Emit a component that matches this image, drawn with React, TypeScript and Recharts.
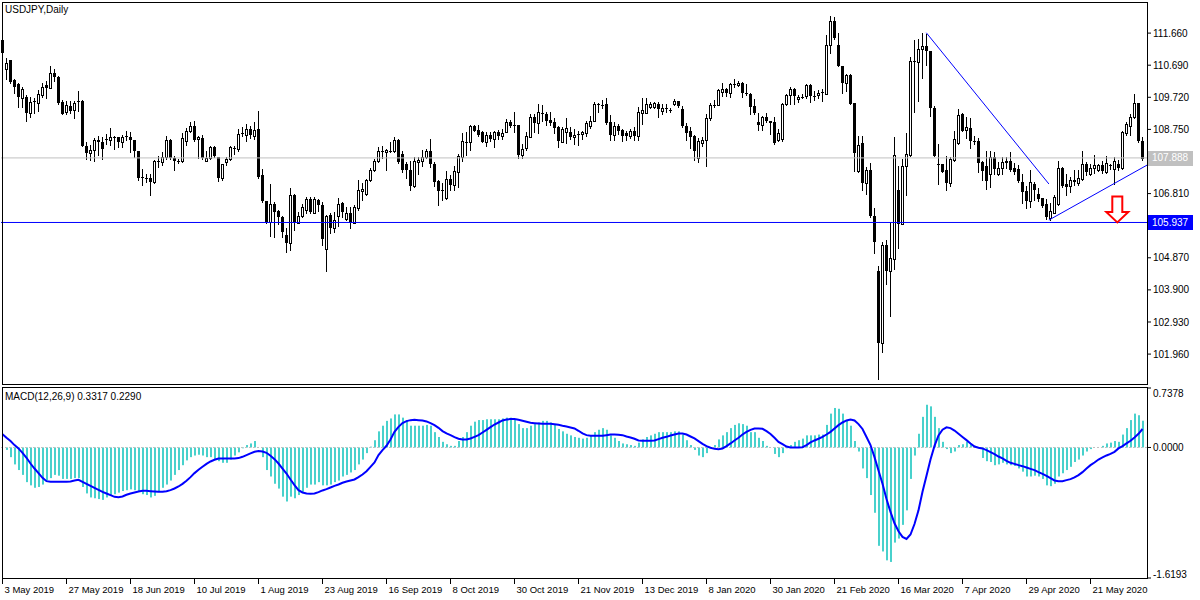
import React from "react";
import { ComposedChart, Bar, Line, XAxis, YAxis, ReferenceLine, ReferenceDot } from "recharts";

const dateLabels = [
  "3 May 2019", "27 May 2019", "18 Jun 2019", "10 Jul 2019", "1 Aug 2019", "23 Aug 2019",
  "16 Sep 2019", "8 Oct 2019", "30 Oct 2019", "21 Nov 2019", "13 Dec 2019", "8 Jan 2020",
  "30 Jan 2020", "21 Feb 2020", "16 Mar 2020", "7 Apr 2020", "29 Apr 2020", "21 May 2020",
];
const labelBars = [0, 16, 32, 48, 64, 80, 96, 112, 128, 144, 160, 176, 192, 208, 224, 240, 256, 272];
// 107.780 and 105.840 sit under the price tags, so they are left out
const priceTicks = [111.66, 110.69, 109.72, 108.75, 106.81, 104.87, 103.9, 102.93, 101.96];
const macdTicks = [0.7378, 0, -1.6193];

const openP = [
  111.46, 110.58, 110.84, 110.23, 110.11, 109.71, 109.73, 109.26, 109.6, 109.56,
  109.79, 110.09, 110.01, 110.46, 110.33, 109.58, 109.29, 109.46, 109.33, 109.61,
  109.61, 108.26, 108.04, 108.14, 108.43, 108.36, 108.46, 108.43, 108.53, 108.51,
  108.36, 108.54, 108.53, 108.43, 108.11, 107.31, 107.29, 107.29, 107.16, 107.79,
  107.76, 107.91, 108.43, 107.89, 107.81, 107.78, 108.41, 108.71, 108.86, 108.45,
  108.49, 107.81, 107.89, 108.23, 107.93, 107.29, 107.76, 107.86, 108.18, 108.16,
  108.64, 108.59, 108.76, 108.56, 108.76, 107.36, 106.59, 105.96, 106.49, 106.29,
  106.11, 105.56, 105.31, 106.76, 105.93, 106.13, 106.31, 106.66, 106.23, 106.63,
  106.46, 105.13, 106.16, 105.76, 106.13, 106.53, 106.03, 106.23, 105.93, 106.36,
  106.89, 106.81, 107.21, 107.51, 107.79, 108.09, 108.06, 108.11, 108.09, 108.44,
  108.01, 107.71, 107.53, 107.03, 107.76, 107.81, 107.93, 108.09, 107.71, 107.18,
  106.91, 106.68, 107.24, 107.08, 107.46, 107.93, 108.36, 108.36, 108.86, 108.73,
  108.66, 108.36, 108.59, 108.46, 108.68, 108.56, 108.68, 108.98, 108.88, 108.88,
  107.99, 108.19, 108.53, 109.13, 108.93, 109.24, 109.23, 109.03, 108.96, 108.81,
  108.38, 108.66, 108.68, 108.51, 108.61, 108.61, 108.63, 108.86, 109.0, 109.53,
  109.49, 109.53, 108.96, 108.59, 108.86, 108.73, 108.63, 108.54, 108.71, 108.54,
  109.26, 109.26, 109.44, 109.43, 109.53, 109.31, 109.39, 109.34, 109.51, 109.61,
  109.36, 108.86, 108.71, 108.56, 107.89, 108.33, 108.43, 109.08, 109.48, 109.49,
  109.89, 109.98, 109.86, 110.13, 110.08, 110.16, 109.86, 109.83, 109.46, 108.96,
  108.88, 109.13, 109.01, 108.96, 108.43, 108.47, 109.51, 109.79, 109.96, 109.66,
  109.74, 109.76, 110.09, 109.76, 109.78, 109.89, 109.83, 111.31, 112.03, 111.29,
  110.66, 110.16, 110.39, 109.56, 107.49, 108.35, 107.13, 107.51, 106.13, 104.46,
  102.31, 105.26, 104.46, 104.83, 106.91, 105.89, 107.63, 107.99, 110.81, 110.79,
  111.19, 111.26, 111.11, 109.41, 107.71, 107.69, 107.53, 107.13, 107.83, 108.33,
  109.21, 108.73, 108.79, 108.39, 108.41, 107.76, 107.63, 107.41, 107.93, 107.41,
  107.59, 107.79, 107.78, 107.59, 107.56, 107.16, 106.89, 106.59, 107.09, 106.79,
  106.69, 106.51, 106.06, 106.23, 106.49, 107.59, 107.11, 107.03, 107.23, 107.13,
  107.26, 107.69, 107.39, 107.58, 107.53, 107.66, 107.46, 107.66, 107.56, 107.71,
  107.59, 108.63, 108.86, 109.11, 109.56, 108.41,
];
const highP = [
  111.55, 110.91, 110.84, 110.26, 110.16, 110.03, 109.78, 109.73, 109.71, 109.93,
  110.16, 110.21, 110.66, 110.56, 110.35, 109.63, 109.61, 109.61, 109.61, 109.91,
  109.63, 108.36, 108.29, 108.49, 108.56, 108.53, 108.61, 108.79, 108.56, 108.53,
  108.59, 108.71, 108.66, 108.43, 108.11, 107.56, 107.41, 107.41, 107.83, 107.96,
  108.06, 108.56, 108.46, 107.96, 107.85, 108.63, 108.79, 108.96, 108.99, 108.56,
  108.59, 108.11, 108.26, 108.26, 107.93, 107.71, 107.91, 108.26, 108.26, 108.76,
  108.81, 108.91, 108.86, 108.96, 109.31, 107.56, 106.59, 107.09, 106.56, 106.31,
  106.13, 105.76, 106.99, 106.81, 106.26, 106.51, 106.71, 106.71, 106.71, 106.66,
  106.56, 106.16, 106.21, 106.26, 106.69, 106.56, 106.41, 106.41, 106.46, 107.23,
  107.13, 107.26, 107.59, 107.86, 108.21, 108.26, 108.16, 108.36, 108.51, 108.46,
  108.09, 107.76, 107.81, 107.91, 107.91, 108.13, 108.16, 108.46, 107.76, 107.21,
  107.13, 107.48, 107.36, 107.63, 108.01, 108.63, 108.66, 108.89, 108.89, 108.89,
  108.71, 108.66, 108.66, 108.71, 108.73, 108.76, 109.06, 109.03, 109.28, 108.88,
  108.31, 108.66, 109.21, 109.21, 109.51, 109.49, 109.29, 109.29, 109.09, 108.86,
  108.81, 109.09, 108.81, 108.76, 108.71, 108.71, 108.99, 109.16, 109.59, 109.56,
  109.63, 109.69, 109.19, 108.96, 108.91, 108.76, 108.69, 108.76, 108.83, 109.43,
  109.69, 109.69, 109.59, 109.59, 109.59, 109.51, 109.51, 109.41, 109.66, 109.61,
  109.46, 108.93, 108.83, 108.59, 108.49, 108.51, 109.23, 109.56, 109.63, 109.96,
  110.16, 110.01, 110.16, 110.26, 110.21, 110.19, 110.11, 109.86, 109.66, 109.26,
  109.16, 109.26, 109.01, 109.13, 108.76, 109.56, 109.81, 110.03, 110.01, 109.79,
  109.81, 110.13, 110.11, 109.91, 109.93, 109.96, 111.59, 112.19, 112.16, 111.66,
  110.66, 110.41, 110.43, 109.56, 108.56, 108.56, 107.61, 107.73, 106.36, 104.61,
  105.36, 105.41, 105.96, 108.51, 107.63, 107.86, 108.63, 110.93, 111.46, 111.49,
  111.66, 111.63, 111.13, 109.46, 108.31, 107.71, 107.96, 107.91, 108.69, 109.36,
  109.26, 109.11, 109.09, 108.56, 108.49, 107.81, 108.09, 108.09, 108.06, 107.76,
  107.91, 107.91, 108.06, 107.73, 107.66, 107.39, 107.03, 107.51, 107.16, 106.99,
  106.69, 106.66, 106.53, 106.76, 107.81, 107.61, 107.41, 107.31, 107.51, 107.53,
  108.09, 107.76, 107.71, 107.99, 107.71, 107.81, 107.96, 107.71, 107.91, 107.83,
  108.71, 108.96, 109.21, 109.83, 109.56, 108.51,
];
const lowP = [
  110.95, 110.26, 110.16, 109.86, 109.43, 109.43, 108.99, 109.11, 109.26, 109.31,
  109.73, 109.71, 109.99, 110.21, 109.53, 109.21, 109.21, 109.26, 109.09, 109.31,
  108.24, 107.86, 107.83, 107.79, 107.99, 107.86, 108.31, 108.29, 108.16, 108.21,
  108.21, 108.43, 108.06, 107.91, 107.21, 107.06, 107.16, 106.76, 107.13, 107.61,
  107.66, 107.86, 107.86, 107.51, 107.73, 107.76, 108.29, 108.66, 108.41, 107.88,
  107.86, 107.79, 107.86, 107.93, 107.19, 107.23, 107.66, 107.83, 108.01, 108.11,
  108.56, 108.39, 108.49, 108.46, 107.29, 106.56, 105.93, 105.53, 105.51, 105.89,
  105.51, 105.06, 105.11, 105.71, 105.91, 106.11, 106.23, 106.21, 106.21, 106.29,
  105.26, 104.46, 105.61, 105.66, 105.83, 106.11, 106.01, 105.76, 105.91, 106.31,
  106.61, 106.76, 107.19, 107.49, 107.76, 107.89, 107.51, 108.06, 108.06, 107.73,
  107.46, 107.29, 106.93, 107.01, 107.41, 107.63, 107.89, 107.61, 107.03, 106.46,
  106.61, 106.65, 106.91, 106.91, 107.01, 107.81, 107.99, 108.13, 108.69, 108.56,
  108.36, 108.26, 108.41, 108.23, 108.46, 108.46, 108.66, 108.81, 108.66, 107.89,
  107.89, 108.13, 108.53, 108.66, 108.63, 109.01, 108.89, 108.89, 108.63, 108.21,
  108.36, 108.33, 108.46, 108.31, 108.29, 108.46, 108.56, 108.79, 108.99, 109.29,
  109.39, 108.91, 108.44, 108.43, 108.61, 108.41, 108.43, 108.49, 108.43, 108.43,
  108.91, 109.25, 109.41, 109.41, 109.13, 109.23, 109.29, 109.29, 109.49, 109.43,
  108.83, 108.44, 108.19, 107.83, 107.76, 108.26, 107.64, 109.03, 109.44, 109.48,
  109.76, 109.76, 109.73, 110.03, 110.06, 109.73, 109.79, 109.23, 109.21, 108.73,
  108.73, 108.96, 108.61, 108.31, 108.41, 108.41, 109.49, 109.51, 109.51, 109.59,
  109.69, 109.71, 109.59, 109.63, 109.69, 109.61, 109.81, 111.06, 111.49, 110.66,
  109.86, 109.91, 109.51, 107.49, 107.46, 106.91, 106.81, 106.11, 105.01, 101.21,
  102.03, 104.09, 103.11, 104.53, 105.16, 105.89, 106.76, 107.96, 109.29, 109.61,
  110.31, 110.71, 109.16, 107.96, 107.11, 107.46, 106.91, 107.03, 107.81, 108.31,
  108.69, 108.49, 108.19, 108.31, 107.46, 107.21, 106.96, 107.01, 107.39, 107.36,
  107.39, 107.59, 107.49, 107.41, 107.16, 106.53, 106.36, 106.39, 106.61, 106.59,
  106.41, 106.03, 106.01, 106.21, 106.46, 107.01, 106.76, 106.86, 107.06, 107.06,
  107.23, 107.36, 107.36, 107.43, 107.49, 107.43, 107.43, 107.56, 107.09, 107.53,
  107.56, 108.59, 108.59, 109.09, 108.36, 107.83,
];
const closeP = [
  111.06, 110.76, 110.19, 110.03, 109.73, 109.96, 109.26, 109.59, 109.6, 109.81,
  110.03, 110.01, 110.46, 110.33, 109.56, 109.23, 109.49, 109.31, 109.56, 109.6,
  108.26, 108.03, 108.14, 108.43, 108.36, 108.16, 108.44, 108.51, 108.48, 108.36,
  108.53, 108.53, 108.43, 108.11, 107.29, 107.31, 107.28, 107.16, 107.78, 107.79,
  107.93, 108.43, 107.88, 107.81, 107.81, 108.48, 108.71, 108.86, 108.43, 108.51,
  107.89, 107.89, 108.23, 107.96, 107.29, 107.69, 107.86, 108.23, 108.18, 108.61,
  108.64, 108.76, 108.59, 108.73, 107.31, 106.59, 105.96, 106.49, 106.26, 106.09,
  105.66, 105.31, 106.76, 105.93, 106.13, 106.39, 106.66, 106.26, 106.66, 106.46,
  105.43, 106.13, 105.76, 106.01, 106.51, 106.26, 106.23, 105.93, 106.41, 106.93,
  106.96, 107.23, 107.53, 107.81, 108.11, 108.09, 108.14, 108.11, 108.43, 107.76,
  107.53, 107.51, 107.03, 107.78, 107.83, 107.91, 108.09, 107.71, 107.16, 106.89,
  106.91, 107.24, 107.06, 107.48, 107.96, 108.41, 108.36, 108.86, 108.71, 108.59,
  108.36, 108.59, 108.46, 108.68, 108.56, 108.64, 108.98, 108.86, 108.88, 107.99,
  108.16, 108.56, 109.13, 108.93, 109.28, 109.24, 109.01, 108.95, 108.78, 108.39,
  108.76, 108.79, 108.51, 108.59, 108.61, 108.66, 108.93, 109.01, 109.53, 109.49,
  109.49, 108.93, 108.59, 108.86, 108.71, 108.54, 108.54, 108.71, 108.54, 109.28,
  109.34, 109.53, 109.53, 109.55, 109.36, 109.41, 109.39, 109.34, 109.61, 109.46,
  108.84, 108.63, 108.53, 108.09, 108.39, 108.43, 109.09, 109.49, 109.48, 109.93,
  109.98, 109.84, 110.13, 110.13, 110.16, 109.84, 109.81, 109.44, 109.26, 108.88,
  109.13, 108.99, 108.93, 108.33, 108.63, 109.51, 109.79, 109.96, 109.76, 109.74,
  109.74, 110.09, 109.76, 109.76, 109.84, 109.89, 111.31, 112.03, 111.51, 110.66,
  110.16, 110.39, 109.53, 108.03, 108.29, 107.13, 107.51, 106.13, 105.36, 102.31,
  105.26, 104.46, 104.86, 107.99, 105.89, 107.63, 108.01, 110.81, 110.81, 111.19,
  111.26, 111.11, 109.39, 107.96, 107.71, 107.46, 107.13, 107.86, 108.46, 109.19,
  108.71, 108.81, 108.41, 108.39, 107.73, 107.49, 107.19, 107.93, 107.56, 107.59,
  107.76, 107.73, 107.53, 107.46, 107.19, 106.86, 106.59, 107.16, 106.91, 106.66,
  106.43, 106.09, 106.29, 106.71, 107.59, 107.03, 107.01, 107.23, 107.16, 107.29,
  107.69, 107.46, 107.59, 107.66, 107.66, 107.49, 107.73, 107.66, 107.79, 107.59,
  108.66, 108.91, 109.13, 109.56, 108.39, 107.86,
];

// MACD(12,26,9): histogram = main line, blue line = signal
const macdMain = [
  0.0, -0.03, -0.12, -0.21, -0.28, -0.34, -0.43, -0.47, -0.5, -0.49,
  -0.46, -0.41, -0.38, -0.34, -0.35, -0.39, -0.39, -0.39, -0.38, -0.38,
  -0.49, -0.57, -0.62, -0.63, -0.64, -0.65, -0.62, -0.6, -0.58, -0.56,
  -0.54, -0.53, -0.52, -0.53, -0.55, -0.58, -0.59, -0.62, -0.6, -0.55,
  -0.5, -0.46, -0.41, -0.34, -0.28, -0.22, -0.16, -0.12, -0.1, -0.09,
  -0.1, -0.12, -0.12, -0.15, -0.17, -0.19, -0.19, -0.15, -0.1, -0.06,
  -0.01, 0.03, 0.05, 0.08, 0.0, -0.12, -0.28, -0.36, -0.45, -0.51,
  -0.61, -0.67, -0.61, -0.63, -0.59, -0.55, -0.5, -0.46, -0.46, -0.43,
  -0.47, -0.47, -0.46, -0.43, -0.41, -0.36, -0.34, -0.31, -0.28, -0.21,
  -0.15, -0.07, 0.01, 0.09, 0.2, 0.27, 0.33, 0.36, 0.41, 0.41,
  0.37, 0.34, 0.27, 0.27, 0.27, 0.27, 0.28, 0.27, 0.19, 0.13,
  0.07, 0.04, 0.02, 0.02, 0.08, 0.13, 0.19, 0.27, 0.32, 0.34,
  0.34, 0.35, 0.35, 0.35, 0.35, 0.36, 0.37, 0.37, 0.35, 0.29,
  0.24, 0.24, 0.27, 0.29, 0.31, 0.33, 0.33, 0.31, 0.29, 0.23,
  0.2, 0.17, 0.15, 0.13, 0.12, 0.11, 0.12, 0.15, 0.19, 0.22,
  0.24, 0.22, 0.15, 0.12, 0.08, 0.05, 0.04, 0.03, 0.02, 0.06,
  0.1, 0.13, 0.15, 0.17, 0.19, 0.19, 0.19, 0.19, 0.2, 0.2,
  0.16, 0.09, 0.03, -0.03, -0.1, -0.12, -0.07, -0.01, 0.03, 0.1,
  0.15, 0.19, 0.24, 0.28, 0.3, 0.29, 0.27, 0.19, 0.19, 0.12,
  0.08, 0.02, 0.0, -0.08, -0.12, -0.07, -0.01, 0.03, 0.07, 0.09,
  0.11, 0.15, 0.15, 0.15, 0.16, 0.16, 0.28, 0.42, 0.49, 0.48,
  0.42, 0.34, 0.27, 0.08, -0.05, -0.26, -0.38, -0.59, -0.81, -1.22,
  -1.29, -1.4, -1.42, -1.18, -1.13, -0.96, -0.78, -0.39, -0.1, 0.17,
  0.38, 0.53, 0.51, 0.38, 0.24, 0.07, -0.02, -0.07, -0.05, 0.03,
  0.04, 0.07, 0.04, 0.02, -0.01, -0.13, -0.17, -0.18, -0.22, -0.21,
  -0.19, -0.21, -0.22, -0.23, -0.26, -0.3, -0.36, -0.36, -0.35, -0.36,
  -0.39, -0.47, -0.48, -0.45, -0.36, -0.32, -0.28, -0.24, -0.18, -0.15,
  -0.1, -0.05, -0.02, 0.0, 0.0, 0.02, 0.05, 0.06, 0.08, 0.07,
  0.16, 0.24, 0.34, 0.42, 0.4, 0.3317,
];
const macdSignal = [
  0.165, 0.12, 0.079, 0.029, -0.012, -0.066, -0.128, -0.199, -0.261, -0.318,
  -0.376, -0.418, -0.426, -0.426, -0.426, -0.426, -0.426, -0.422, -0.409, -0.401,
  -0.426, -0.451, -0.476, -0.5, -0.525, -0.55, -0.571, -0.591, -0.612, -0.616,
  -0.608, -0.587, -0.571, -0.558, -0.546, -0.538, -0.538, -0.542, -0.546, -0.55,
  -0.55, -0.542, -0.529, -0.509, -0.484, -0.451, -0.414, -0.368, -0.318, -0.277,
  -0.24, -0.203, -0.174, -0.153, -0.136, -0.136, -0.136, -0.136, -0.136, -0.132,
  -0.116, -0.095, -0.074, -0.054, -0.045, -0.05, -0.066, -0.103, -0.145, -0.199,
  -0.261, -0.323, -0.397, -0.467, -0.529, -0.558, -0.571, -0.575, -0.571, -0.554,
  -0.533, -0.517, -0.496, -0.476, -0.459, -0.438, -0.422, -0.409, -0.397, -0.368,
  -0.335, -0.294, -0.24, -0.186, -0.095, -0.033, 0.021, 0.1, 0.194, 0.256,
  0.302, 0.327, 0.339, 0.343, 0.339, 0.335, 0.323, 0.302, 0.277, 0.244,
  0.203, 0.174, 0.153, 0.128, 0.108, 0.099, 0.099, 0.112, 0.132, 0.153,
  0.186, 0.219, 0.252, 0.285, 0.31, 0.335, 0.347, 0.352, 0.352, 0.343,
  0.331, 0.318, 0.306, 0.302, 0.298, 0.294, 0.294, 0.294, 0.289, 0.281,
  0.269, 0.261, 0.248, 0.236, 0.207, 0.174, 0.153, 0.145, 0.145, 0.145,
  0.145, 0.153, 0.161, 0.161, 0.157, 0.153, 0.136, 0.124, 0.108, 0.087,
  0.083, 0.083, 0.083, 0.087, 0.103, 0.12, 0.132, 0.149, 0.161, 0.174,
  0.174, 0.161, 0.136, 0.112, 0.079, 0.045, 0.017, -0.004, -0.017, -0.021,
  -0.012, 0.017, 0.05, 0.087, 0.12, 0.161, 0.194, 0.219, 0.236, 0.236,
  0.232, 0.203, 0.168, 0.12, 0.07, 0.041, 0.012, 0.0, 0.0, 0.0,
  0.004, 0.029, 0.062, 0.087, 0.108, 0.132, 0.161, 0.194, 0.236, 0.277,
  0.31, 0.335, 0.347, 0.335, 0.29, 0.23, 0.13, 0.03, -0.12, -0.285,
  -0.45, -0.64, -0.8, -0.94, -1.04, -1.11, -1.135, -1.08, -0.95, -0.78,
  -0.55, -0.35, -0.15, 0.02, 0.15, 0.22, 0.25, 0.24, 0.21, 0.17,
  0.13, 0.091, 0.05, 0.012, -0.004, -0.012, -0.033, -0.058, -0.083, -0.112,
  -0.136, -0.165, -0.19, -0.203, -0.219, -0.232, -0.248, -0.265, -0.281, -0.306,
  -0.327, -0.352, -0.381, -0.409, -0.418, -0.418, -0.405, -0.393, -0.372, -0.343,
  -0.306, -0.261, -0.219, -0.186, -0.149, -0.124, -0.099, -0.079, -0.054, -0.012,
  0.017, 0.05, 0.083, 0.124, 0.17, 0.229,
];

const lastPrice = 107.888;
const supportLevel = 105.937;
const downTrend = [{ x: 230.96, y: 111.67 }, { x: 261.6, y: 107.1 }];
const upTrend = [{ x: 261.6, y: 106.01 }, { x: 286.125, y: 107.67 }];
const arrowTip = { x: 278.7, y: 105.94 };

const font = "'Liberation Sans', Arial, sans-serif";
const xDomain: [number, number] = [-0.375, 286.125];

const candles = openP.map((o, i) => ({ i, o, h: highP[i], l: lowP[i], c: closeP[i] }));
const macdData = macdMain.map((m, i) => ({ i, m, s: macdSignal[i] }));

function Candle(props: any) {
  const { x, y, width, height, payload } = props;
  if (x == null || y == null || !payload) return null;
  const top = Math.min(y, y + height);
  const bot = Math.max(y, y + height);
  const span = payload.h - payload.l;
  const at = (v: number) => (span > 0 ? top + ((payload.h - v) / span) * (bot - top) : top);
  const cx = Math.floor(x + width / 2) + 0.5;
  const yo = Math.round(at(payload.o));
  const yc = Math.round(at(payload.c));
  const b0 = Math.min(yo, yc);
  const b1 = Math.max(yo, yc);
  const up = payload.c > payload.o;
  return (
    <g>
      <line x1={cx} x2={cx} y1={Math.round(top)} y2={Math.round(bot) + 1} stroke="#000" strokeWidth={1} />
      {up && b1 - b0 >= 1 ? (
        <rect x={cx - 1} y={b0 + 0.5} width={2} height={b1 - b0} fill="#fff" stroke="#000" strokeWidth={1} />
      ) : (
        <rect x={cx - 1.5} y={b0} width={3} height={Math.max(b1 - b0, 1)} fill="#000" />
      )}
    </g>
  );
}

function HistBar(props: any) {
  const { x, y, width, height } = props;
  if (x == null || y == null || !height) return null;
  const top = Math.min(y, y + height);
  return <rect x={Math.round(x + width / 2 - 1)} y={top} width={2} height={Math.abs(height)} fill="#48D1CC" />;
}

function DateTick(props: any) {
  const { x, y, payload } = props;
  const px = Math.floor(x) + 0.5;
  const idx = labelBars.indexOf(payload.value);
  return (
    <g>
      <line x1={px} x2={px} y1={y} y2={y + 6} stroke="#000" />
      <text x={px + 2} y={y + 15} fontSize={9.5} fontFamily={font} fill="#000">
        {dateLabels[idx]}
      </text>
    </g>
  );
}

function MacdTick(props: any) {
  const { x, y, payload } = props;
  const v = payload.value;
  const shift = v > 0.5 ? 5 : v < -1 ? -4 : 0;
  return (
    <text x={x} y={y + shift} dy="0.355em" fontSize={10} fontFamily={font} fill="#000">
      {v.toFixed(4)}
    </text>
  );
}

function PriceTag(props: any) {
  const { viewBox, price, tagFill } = props;
  if (!viewBox) return null;
  const left = viewBox.x + viewBox.width + 1;
  return (
    <g>
      <rect x={left} y={Math.round(viewBox.y) - 7} width={45} height={15} fill={tagFill} />
      <text x={left + 4} y={viewBox.y} dy="0.355em" fontSize={10} fontFamily={font} fill="#fff">
        {price.toFixed(3)}
      </text>
    </g>
  );
}

function DownArrow(props: any) {
  const { cx, cy } = props;
  if (cx == null || cy == null) return null;
  const pts = [
    [0, 0], [-11, -10.5], [-5, -10.5], [-5, -26], [5, -26], [5, -10.5], [11, -10.5],
  ].map(([dx, dy]) => `${cx + dx},${cy + dy}`).join(" ");
  return <polygon points={pts} fill="#fff" stroke="#FF0000" strokeWidth={2} strokeLinejoin="miter" />;
}

const frame = (top: number, height: number): React.CSSProperties => ({
  position: "absolute",
  left: 2,
  top,
  width: 1146,
  height,
  border: "1px solid #000",
  boxSizing: "border-box",
  pointerEvents: "none",
});

const caption: React.CSSProperties = {
  position: "absolute",
  left: 5,
  fontFamily: font,
  fontSize: 10,
  lineHeight: "12px",
  color: "#000",
  whiteSpace: "nowrap",
};

export default function App() {
  return (
    <div style={{ position: "absolute", left: 0, top: 0, width: 1200, height: 600, background: "#fff", overflow: "hidden" }}>
      <div style={{ position: "absolute", left: 0, top: 0 }}>
        <ComposedChart width={1200} height={386} data={candles} margin={{ top: 1, right: 0, bottom: 2, left: 1 }}>
          <XAxis dataKey="i" type="number" domain={xDomain} hide allowDataOverflow />
          <YAxis
            orientation="right"
            width={53}
            domain={[101.056, 112.63]}
            ticks={priceTicks}
            interval={0}
            allowDataOverflow
            axisLine={false}
            tickLine={{ stroke: "#000" }}
            tickSize={4}
            tickMargin={2}
            tick={{ fill: "#000", fontSize: 10, fontFamily: font }}
            tickFormatter={(v: number) => v.toFixed(3)}
          />
          <ReferenceLine y={lastPrice} stroke="#C0C0C0" label={<PriceTag price={lastPrice} tagFill="#C0C0C0" />} />
          <ReferenceLine y={supportLevel} stroke="#0000FF" label={<PriceTag price={supportLevel} tagFill="#0000FF" />} />
          <Bar
            dataKey={(d: any) => [d.l, d.h]}
            barSize={3}
            shape={(p: any) => <Candle {...p} />}
            isAnimationActive={false}
          />
          <ReferenceLine segment={downTrend} stroke="#0000FF" ifOverflow="visible" />
          <ReferenceLine segment={upTrend} stroke="#0000FF" ifOverflow="visible" />
          <ReferenceDot x={arrowTip.x} y={arrowTip.y} shape={(p: any) => <DownArrow {...p} />} ifOverflow="visible" />
        </ComposedChart>
      </div>
      <div style={{ position: "absolute", left: 0, top: 386 }}>
        <ComposedChart width={1200} height={214} data={macdData} margin={{ top: 2, right: 0, bottom: 0, left: 1 }}>
          <XAxis
            dataKey="i"
            type="number"
            domain={xDomain}
            allowDataOverflow
            ticks={labelBars}
            interval={0}
            height={22}
            axisLine={false}
            tickLine={false}
            tickSize={0}
            tickMargin={0}
            tick={(p: any) => <DateTick {...p} />}
          />
          <YAxis
            orientation="right"
            width={53}
            domain={[-1.6193, 0.7378]}
            ticks={macdTicks}
            interval={0}
            allowDataOverflow
            axisLine={false}
            tickLine={{ stroke: "#000" }}
            tickSize={4}
            tickMargin={2}
            tick={(p: any) => <MacdTick {...p} />}
          />
          <ReferenceLine y={0} stroke="#C0C0C0" strokeDasharray="2 2" />
          <Bar dataKey="m" barSize={2} shape={(p: any) => <HistBar {...p} />} isAnimationActive={false} />
          <Line dataKey="s" type="linear" stroke="#0000FF" strokeWidth={2} dot={false} isAnimationActive={false} />
        </ComposedChart>
      </div>
      <div style={frame(2, 383)} />
      <div style={frame(387, 192)} />
      <div style={{ ...caption, top: 4 }}>USDJPY,Daily</div>
      <div style={{ ...caption, top: 391 }}>MACD(12,26,9) 0.3317 0.2290</div>
    </div>
  );
}
